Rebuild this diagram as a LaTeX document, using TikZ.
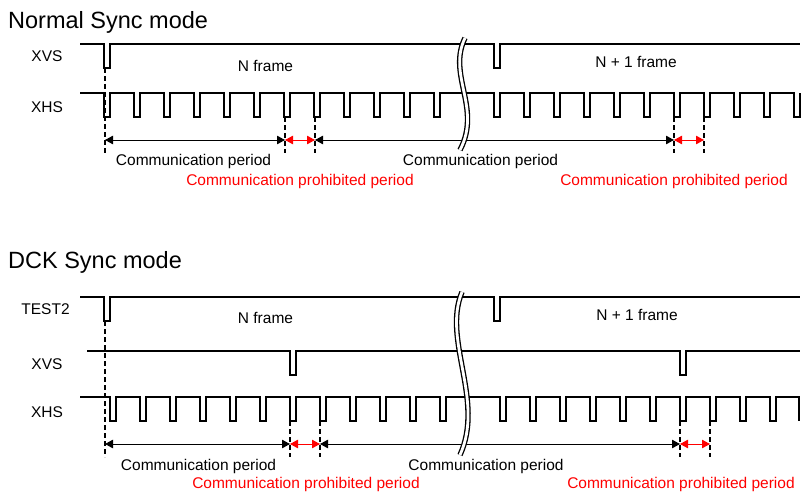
\documentclass[tikz,border=0pt]{standalone}
\usepackage{fontspec}
\setmainfont{Liberation Sans}
\usetikzlibrary{arrows.meta}
\begin{document}
\begin{tikzpicture}[x=1pt,y=-1pt,
  sig/.style={line width=1.6pt, line join=miter},
  guide/.style={line width=1.4pt, dash pattern=on 5pt off 3pt},
  dimb/.style={line width=0.9pt, {Triangle[length=8pt,width=8.5pt]}-{Triangle[length=8pt,width=8.5pt]}},
  dimr/.style={dimb, red},
  lbl/.style={font=\fontsize{15.5}{18}\selectfont, anchor=base, inner sep=0pt},
  ttl/.style={font=\fontsize{23.5}{28}\selectfont, anchor=base west, inner sep=0pt},
  brk/.style={line width=1.3pt, double=white, double distance=2.8pt}]
\useasboundingbox (0,0) rectangle (801,495);

% ================= Normal Sync mode =================
\draw[sig] (80,44) -- (104,44) -- (104,68) -- (110,68) -- (110,44)
  -- (494,44) -- (494,68) -- (500,68) -- (500,44) -- (800,44);
\draw[sig] (80,93) \foreach \k in {0,...,11,13,14,...,23} {
  -- ({104+30*\k},93) -- ++(0,24) -- ++(6,0) -- ++(0,-24)} -- (800,93);

\coordinate (a0t) at (105,68);  \coordinate (a0b) at (105,153);
\coordinate (a1t) at (285,117); \coordinate (a1b) at (285,153);
\coordinate (a2t) at (315,117); \coordinate (a2b) at (315,153);
\coordinate (a3t) at (674,117); \coordinate (a3b) at (674,153);
\coordinate (a4t) at (704,117); \coordinate (a4b) at (704,153);
\foreach \i in {0,...,4} {\draw[guide] (a\i t) -- (a\i b);}

\coordinate (r0) at (105,140); \coordinate (r1) at (285,140);
\coordinate (r2) at (315,140); \coordinate (r3) at (674,140);
\coordinate (r4) at (704,140);
\draw[dimb] (r0) -- (r1);
\draw[dimr] (r1) -- (r2);
\draw[dimb] (r2) -- (r3);
\draw[dimr] (r3) -- (r4);

\draw[brk] (465,38) .. controls (447,75) and (482,108) .. (460,150);

\node[ttl] (t1) at (8,29) {Normal Sync mode};
\node[lbl] (lxvs1) at (47,62) {XVS};
\node[lbl] (lxhs1) at (47,112) {XHS};
\node[lbl] (nf1) at (265.5,71) {N frame};
\node[lbl] (nf1b) at (636,68) {N + 1 frame};
\node[lbl] (cp1) at (193.5,165.5) {Communication period};
\node[lbl] (cp1b) at (480.5,165.5) {Communication period};
\node[lbl,red] (pp1) at (300,185) {Communication prohibited period};
\node[lbl,red] (pp1b) at (674,185) {Communication prohibited period};

% ================= DCK Sync mode =================
\draw[sig] (80,297) -- (104,297) -- (104,321) -- (110,321) -- (110,297)
  -- (494,297) -- (494,321) -- (500,321) -- (500,297) -- (800,297);
\draw[sig] (87,351) -- (290,351) -- (290,375) -- (296,375) -- (296,351)
  -- (680,351) -- (680,375) -- (686,375) -- (686,351) -- (800,351);
\draw[sig] (80,397) \foreach \k in {0,...,11,13,14,...,22} {
  -- ({110+30*\k},397) -- ++(0,24) -- ++(6,0) -- ++(0,-24)} -- (799,397) -- (799,421);

\coordinate (b0t) at (105,321); \coordinate (b0b) at (105,457);
\coordinate (b1t) at (290,421); \coordinate (b1b) at (290,457);
\coordinate (b2t) at (320,421); \coordinate (b2b) at (320,457);
\coordinate (b3t) at (680,421); \coordinate (b3b) at (680,457);
\coordinate (b4t) at (710,421); \coordinate (b4b) at (710,457);
\foreach \i in {0,...,4} {\draw[guide] (b\i t) -- (b\i b);}

\coordinate (s0) at (105,444); \coordinate (s1) at (290,444);
\coordinate (s2) at (320,444); \coordinate (s3) at (680,444);
\coordinate (s4) at (710,444);
\draw[dimb] (s0) -- (s1);
\draw[dimr] (s1) -- (s2);
\draw[dimb] (s2) -- (s3);
\draw[dimr] (s3) -- (s4);

\draw[brk] (462,292) .. controls (442,340) and (485,400) .. (460,455);

\node[ttl] (t2) at (8,268) {DCK Sync mode};
\node[lbl] (ltest2) at (45.5,314) {TEST2};
\node[lbl] (lxvs2) at (47,369) {XVS};
\node[lbl] (lxhs2) at (47,417) {XHS};
\node[lbl] (nf2) at (265.5,323) {N frame};
\node[lbl] (nf2b) at (637,320) {N + 1 frame};
\node[lbl] (cp2) at (198.5,470.5) {Communication period};
\node[lbl] (cp2b) at (486,470.5) {Communication period};
\node[lbl,red] (pp2) at (306,488.5) {Communication prohibited period};
\node[lbl,red] (pp2b) at (681,488.5) {Communication prohibited period};
\end{tikzpicture}
\end{document}
